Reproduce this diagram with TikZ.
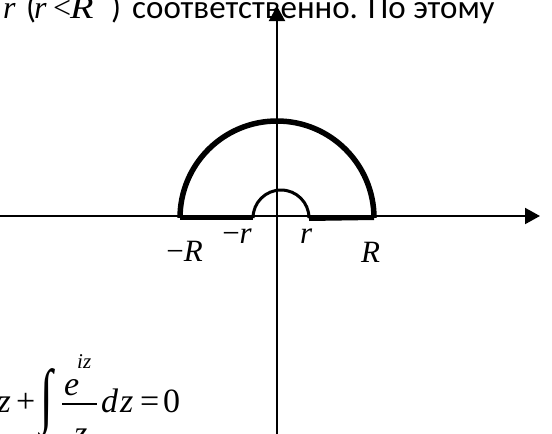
\documentclass[tikz,border=0pt]{standalone}
\usepackage{fontspec}
\usepackage{graphicx}
\setmainfont{Carlito}
\newfontfamily\tnr{Liberation Serif}
\usetikzlibrary{arrows.meta}
\tikzset{
  txt/.style={inner sep=0pt, anchor=base west, font=\fontsize{33}{37}\selectfont},
  mth/.style={inner sep=0pt, anchor=base west, font=\tnr\itshape\fontsize{32}{36}\selectfont},
  up/.style={inner sep=0pt, anchor=base west, font=\tnr\fontsize{32}{36}\selectfont},
  lbl/.style={inner sep=0pt, anchor=base west, font=\tnr\itshape\fontsize{31}{34}\selectfont},
  frm/.style={inner sep=0pt, anchor=base west, font=\tnr\itshape\fontsize{34}{38}\selectfont},
  frmup/.style={inner sep=0pt, anchor=base west, font=\tnr\fontsize{34}{38}\selectfont},
  axis/.style={line width=2pt, -{Triangle[length=15pt,width=16pt]}},
}
\begin{document}
\begin{tikzpicture}[x=1pt, y=-1pt]
  \useasboundingbox (0,0) rectangle (552,434);
  % line of text above the figure
  \node[mth] (ra) at (3,18) {r};
  \node[txt] (lp) at (26,18) {(};
  \node[mth] (rb) at (34,18) {r};
  \node[up] (lt) at (53,18) {<};
  \node[mth, xscale=1.2] (Ra) at (70,18) {R};
  \node[txt] (rp) at (111,18) {)};
  \node[txt] (ru) at (132,18) {соответственно. По этому};
  % axes
  \coordinate (xl) at (0,216);
  \coordinate (xr) at (540,216);
  \coordinate (yb) at (277,434);
  \coordinate (yt) at (277,6);
  \draw[axis] (xl) -- (xr);
  \draw[axis] (yb) -- (yt);
  % contour
  \coordinate (bigL) at (180,218);
  \coordinate (bigR) at (374,218);
  \coordinate (smL) at (253,218);
  \coordinate (smR) at (309,219);
  \draw[line width=5.5pt] (bigL) arc (180:360:97);
  \draw[line width=4pt] (bigL) -- (smL);
  \draw[line width=4pt] (smR) -- (bigR);
  \draw[line width=3pt] (smL) arc (180:360:28);
  % labels
  \node[lbl, anchor=base east] (mR) at (203,261) {\upshape −\itshape R};
  \node[lbl] (pR) at (361,262) {R};
  \node[lbl, anchor=base east] (mr) at (252,243) {\upshape −\itshape r};
  \node[lbl] (pr) at (300,243) {r};
  % formula, cut at the page edge
  \node[frm, anchor=base east] (za) at (11,412) {z};
  \node[frmup] (pl) at (16,412) {+};
  \node[frmup, anchor=center] (ig) at (47,404) {\scalebox{1.35}[2.1]{∫}};
  \node[frm] (ex) at (64,395) {e};
  \node[inner sep=0pt, anchor=base west, font=\tnr\itshape\fontsize{21}{24}\selectfont] (iz) at (77,368) {iz};
  \draw[line width=1.5pt] (62,404) -- (97,404);
  \node[frm] (zd) at (74,444) {z};
  \node[frm] (dd) at (101,412) {d};
  \node[frm] (dz) at (120,412) {z};
  \node[frmup] (eq) at (140,412) {=};
  \node[frmup] (zero) at (163,412) {0};
\end{tikzpicture}
\end{document}
